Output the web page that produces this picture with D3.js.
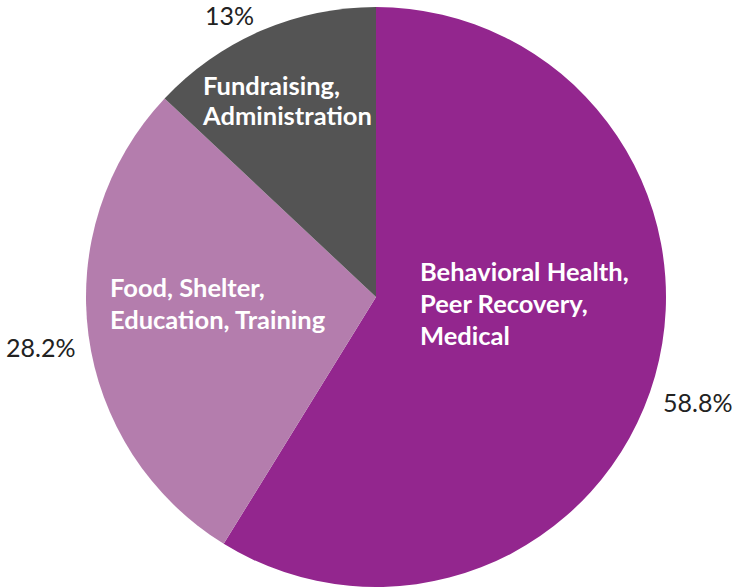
<!DOCTYPE html>
<html>
<head>
<meta charset="utf-8">
<script src="https://cdn.jsdelivr.net/npm/d3@7"></script>
<style>
  body { margin: 0; background: #fff; }
  svg { display: block; font-family: Lato, "Open Sans", sans-serif; }
</style>
</head>
<body>
<div id="chart"></div>
<script>
// data
const categories = ["Behavioral Health, Peer Recovery, Medical", "Food, Shelter, Education, Training", "Fundraising, Administration"];
const labelLines = [["Behavioral Health,", "Peer Recovery,", "Medical"], ["Food, Shelter,", "Education, Training"], ["Fundraising,", "Administration"]];
const values = [58.8, 28.2, 13];
const pctLabels = ["58.8%", "28.2%", "13%"];
const colors = ["#93268e", "#b47dad", "#545454"];

// size
const width = 735, height = 588;
const cx = 376, cy = 297, radius = 290;

const svg = d3.select("#chart")
    .append("svg")
    .attr("width", width)
    .attr("height", height);

const g = svg.append("g")
    .attr("transform", `translate(${cx},${cy})`);

const pie = d3.pie().sort(null).value(d => d)(values);
const arc = d3.arc().innerRadius(0).outerRadius(radius);

g.selectAll("path.slice")
    .data(pie)
    .join("path")
    .attr("class", "slice")
    .attr("d", arc)
    .attr("fill", (d, i) => colors[i]);

// label placement (relative to pie centre), left aligned text blocks
const insidePos = [[44, -16], [-266, 0], [-173, -202]];
const lineH = [32, 32, 30];
const outsidePos = [[287, 115], [-370, 60], [-171, -272]];

pie.forEach(function (d, i) {
    const t = g.append("text")
        .attr("x", insidePos[i][0])
        .attr("y", insidePos[i][1])
        .attr("fill", "#fff")
        .attr("font-weight", "bold")
        .attr("font-size", 25.5);
    labelLines[i].forEach(function (line, j) {
        t.append("tspan")
            .attr("x", insidePos[i][0])
            .attr("y", insidePos[i][1] + j * lineH[i])
            .text(line);
    });

    g.append("text")
        .attr("x", outsidePos[i][0])
        .attr("y", outsidePos[i][1])
        .attr("fill", "#222")
        .attr("font-size", 25)
        .text(pctLabels[i]);
});
</script>
</body>
</html>
